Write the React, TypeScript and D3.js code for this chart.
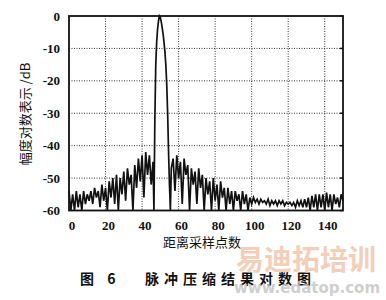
import React from "react";
import * as d3 from "d3";

const xTicks = [0, 20, 40, 60, 80, 100, 120, 140];
const yTicks = [0, -10, -20, -30, -40, -50, -60];

const sampleX = [
  0, 1, 2, 3, 4, 5, 6, 7, 8, 9, 10, 11, 12, 13, 14, 15, 16, 17, 18, 19,
  20, 21, 22, 23, 24, 25, 26, 27, 28, 29, 30, 31, 32, 33, 34, 35, 36, 37, 38, 39,
  40, 41, 42, 43, 44, 45, 46, 46.5, 47, 47.5, 48, 48.5, 49, 49.5, 50, 50.5, 51,
  51.5, 52, 52.5, 53, 53.5, 54, 54.5, 55, 55.5, 56, 57, 58, 59,
  60, 61, 62, 63, 64, 65, 66, 67, 68, 69, 70, 71, 72, 73, 74, 75, 76, 77, 78, 79,
  80, 81, 82, 83, 84, 85, 86, 87, 88, 89, 90, 91, 92, 93, 94, 95, 96, 97, 98, 99,
  100, 101, 102, 103, 104, 105, 106, 107, 108, 109, 110, 111, 112, 113, 114, 115, 116, 117, 118, 119,
  120, 121, 122, 123, 124, 125, 126, 127, 128, 129, 130, 131, 132, 133, 134, 135, 136, 137, 138, 139,
  140, 141, 142, 143, 144, 145, 146, 147, 148, 149, 150,
];

const amplitudeDb = [
  -54, -60, -55, -60, -54, -59, -55, -60, -54, -58, -55, -57, -54, -58, -53, -56, -54, -59, -52, -57,
  -53, -60, -51, -56, -50, -58, -49, -60, -50, -55, -48, -57, -47, -52, -49, -60, -46, -53, -44, -51,
  -43, -56, -42, -49, -43, -52, -45, -60, -32, -15, -8, -4, -1.5, 0, -0.4, -1.8, -3.5,
  -5.5, -8, -11, -15, -21, -30, -42, -52, -60, -47, -44, -54, -43,
  -50, -45, -58, -44, -49, -46, -60, -47, -52, -48, -58, -47, -53, -49, -60, -50, -55, -51, -60, -50,
  -57, -52, -60, -51, -56, -53, -60, -53, -58, -54, -60, -54, -57, -55, -60, -54, -58, -55, -60, -56,
  -58, -56, -57.5, -56.5, -58, -56.5, -57.5, -57, -58, -56.5, -58.5, -57, -58, -57, -58.5, -57, -58, -57, -58.5, -57.5,
  -58, -57.5, -58.5, -57.5, -59, -57, -58.5, -57, -59, -56.5, -59, -56, -60, -55.5, -59, -55, -60, -55, -59, -55,
  -60, -54.5, -59, -55, -60, -55, -58, -56, -59, -55, -57,
];

const yLabel = "幅度对数表示 /dB";
const xLabel = "距离采样点数";
const caption = "图 6   脉冲压缩结果对数图";

export default function App() {
  const W = 386, H = 300;
  const left = 69, right = 343, top = 16, bottom = 210.5;
  const x = d3.scaleLinear().domain([0, 150]).range([left, right]);
  const y = d3.scaleLinear().domain([-60, 0]).range([bottom, top]);
  const pts: [number, number][] = sampleX.map((v, i) => [v, Math.max(-60, amplitudeDb[i])]);
  const line = d3.line<[number, number]>().x(d => x(d[0])).y(d => y(d[1]));
  const tickFont = "'Liberation Serif', 'Times New Roman', serif";
  const cjk = "'Noto Sans CJK SC', sans-serif";
  return (
    <svg width={W} height={H} style={{ position: "absolute", left: 0, top: 0, background: "#fff" }}>
      <rect x={0} y={0} width={W} height={H} fill="#fff" />
      {xTicks.filter(t => t > 0).map(t => (
        <line key={"gx" + t} x1={x(t)} x2={x(t)} y1={top} y2={bottom} stroke="#333" strokeWidth={1} strokeDasharray="1,1.5" />
      ))}
      {yTicks.filter(t => t > -60 && t < 0).map(t => (
        <line key={"gy" + t} x1={left} x2={right} y1={y(t)} y2={y(t)} stroke="#333" strokeWidth={1} strokeDasharray="1,1.5" />
      ))}
      <path d={line(pts) || ""} fill="none" stroke="#111" strokeWidth={1.7} strokeLinejoin="miter" />
      <rect x={left} y={top} width={right - left} height={bottom - top} fill="none" stroke="#111" strokeWidth={1.8} />
      {yTicks.map(t => (
        <line key={"ty" + t} x1={right - 3} x2={right} y1={y(t)} y2={y(t)} stroke="#111" strokeWidth={1.5} />
      ))}
      {yTicks.map(t => (
        <text key={"ly" + t} x={left - 9} y={y(t) + 4.5} textAnchor="end" fontFamily={tickFont} fontWeight="bold" fontSize={13} fill="#111">
          {t}
        </text>
      ))}
      {xTicks.map(t => (
        <text key={"lx" + t} x={x(t) + 3} y={230} textAnchor="middle" fontFamily={tickFont} fontWeight="bold" fontSize={13} fill="#111">
          {t}
        </text>
      ))}
      <text transform={`translate(30,114) rotate(-90)`} textAnchor="middle" fontFamily={cjk} fontSize={13} fill="#111">
        {yLabel}
      </text>
      <text x={202} y={247} textAnchor="middle" fontFamily={cjk} fontSize={13} fill="#111">
        {xLabel}
      </text>
      <text x={80} y={284} fontFamily={cjk} fontWeight="bold" fontSize={14} fill="#111" style={{ whiteSpace: "pre" }} letterSpacing={5}>
        {caption}
      </text>
      <text x={306} y={270} textAnchor="middle" fontFamily={cjk} fontWeight="bold" fontSize={28} fill="#f2c7ae" opacity={0.85}>
        易迪拓培训
      </text>
      <text x={307} y={293} textAnchor="middle" fontFamily="'DejaVu Sans', sans-serif" fontWeight="bold" fontSize={15} fill="#c4c4c4" opacity={0.8}>
        www.edatop.com
      </text>
    </svg>
  );
}
